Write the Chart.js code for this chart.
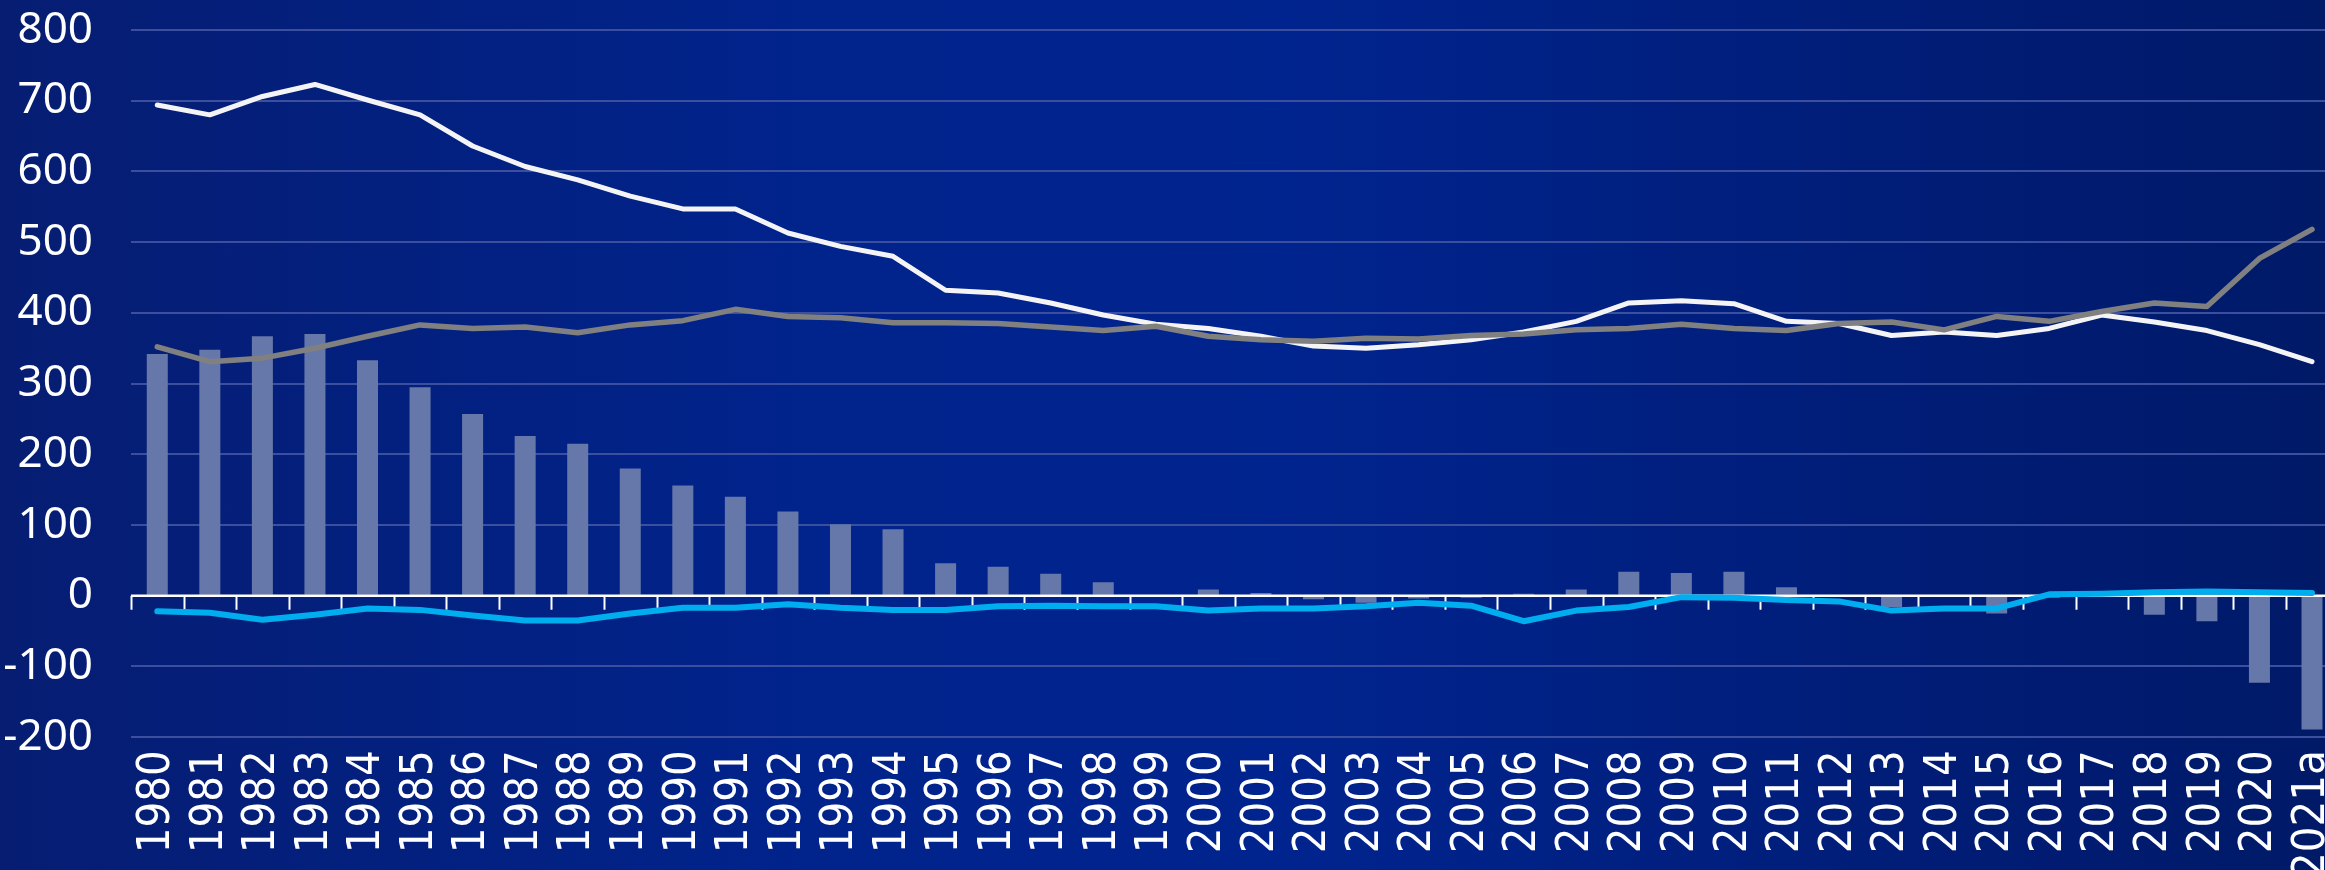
<!DOCTYPE html>
<html>
<head>
<meta charset="utf-8">
<script src="https://cdn.jsdelivr.net/npm/chart.js@4/dist/chart.umd.min.js"></script>
<style>
  html, body {
    margin: 0;
    padding: 0;
    overflow: hidden;
    width: 2325px;
    height: 870px;
    background: linear-gradient(to right, #061d72 0%, #00238c 35%, #00248f 55%, #001c74 85%, #001a68 100%);
  }
  #chart {
    display: block;
  }
</style>
</head>
<body>
<canvas id="chart" width="2379" height="891"></canvas>
<script>
const years = ['1980', '1981', '1982', '1983', '1984', '1985', '1986', '1987', '1988', '1989',
  '1990', '1991', '1992', '1993', '1994', '1995', '1996', '1997', '1998', '1999',
  '2000', '2001', '2002', '2003', '2004', '2005', '2006', '2007', '2008', '2009',
  '2010', '2011', '2012', '2013', '2014', '2015', '2016', '2017', '2018', '2019',
  '2020', '2021a'];

const barValues = [342, 348, 367, 370, 333, 295, 257, 226, 215, 180, 156, 140,
  119, 101, 94, 46, 41, 31, 19, 0, 9, 4, -5, -10, -4, -3,
  3, 9, 34, 32, 34, 12, 0, -16, 0, -25, -3, 0, -27, -36, -123, -189];

const whiteLine = [694, 680, 706, 723, 701, 680, 636, 607, 588, 565, 547, 547,
  513, 494, 480, 432, 428, 414, 397, 384, 378, 367, 353, 350, 355, 362,
  373, 388, 414, 417, 413, 388, 385, 368, 373, 368, 378, 397, 387, 375, 355, 331];

const grayLine = [352, 331, 336, 350, 367, 383, 378, 380, 372, 383, 389, 405,
  395, 393, 386, 386, 385, 380, 375, 381, 367, 362, 360, 364, 363, 368,
  370, 376, 378, 384, 378, 375, 385, 387, 376, 395, 388, 402, 414, 409, 477, 518];

const blueLine = [-22, -24, -34, -27, -18, -20, -28, -35, -35, -25, -17, -17,
  -12, -17, -20, -20, -15, -14, -15, -15, -21, -18, -18, -15, -10, -14,
  -36, -21, -16, -2, -3, -6, -8, -21, -18, -18, 2, 3, 5, 6, 5, 4];

const yMin = -200;
const yMax = 800;
const yStep = 100;

// white zero line with small tick marks between the categories, drawn right after the bars
const zeroAxis = {
  id: 'zeroAxis',
  afterDatasetDraw(chart, args) {
    if (args.index !== 0) return;
    const { ctx, chartArea, scales } = chart;
    const y0 = scales.y.getPixelForValue(0);
    ctx.save();
    ctx.strokeStyle = '#ffffff';
    ctx.lineWidth = 2.5;
    ctx.beginPath();
    ctx.moveTo(chartArea.left, y0);
    ctx.lineTo(chartArea.right, y0);
    ctx.stroke();
    ctx.lineWidth = 2;
    const half = (scales.x.getPixelForValue(1) - scales.x.getPixelForValue(0)) / 2;
    for (let i = 0; i <= years.length; i++) {
      const x = Math.round(scales.x.getPixelForValue(i) - half) + 0.5;
      ctx.beginPath();
      ctx.moveTo(x, y0);
      ctx.lineTo(x, y0 + 14);
      ctx.stroke();
    }
    ctx.restore();
  }
};

const lineStyle = {
  type: 'line',
  pointRadius: 0,
  tension: 0,
  fill: false,
  borderCapStyle: 'round',
  borderJoinStyle: 'round'
};

new Chart(document.getElementById('chart'), {
  type: 'bar',
  data: {
    labels: years,
    datasets: [
      {
        label: 'bars',
        data: barValues,
        backgroundColor: '#6677aa',
        borderWidth: 0,
        barPercentage: 0.4,
        categoryPercentage: 1,
        order: 4
      },
      Object.assign({}, lineStyle, {
        label: 'white',
        data: whiteLine,
        borderColor: '#f4f4f6',
        borderWidth: 5,
        order: 3
      }),
      Object.assign({}, lineStyle, {
        label: 'gray',
        data: grayLine,
        borderColor: '#808080',
        borderWidth: 5.5,
        order: 2
      }),
      Object.assign({}, lineStyle, {
        label: 'blue',
        data: blueLine,
        borderColor: '#00aeef',
        borderWidth: 6,
        order: 1
      })
    ]
  },
  options: {
    responsive: false,
    animation: false,
    layout: {
      padding: { left: 0, right: 0, top: 0, bottom: 0 }
    },
    plugins: {
      legend: { display: false },
      tooltip: { enabled: false }
    },
    scales: {
      x: {
        grid: { display: false, drawTicks: false },
        border: { display: false },
        ticks: {
          color: '#ffffff',
          autoSkip: false,
          minRotation: 90,
          maxRotation: 90,
          padding: 13,
          font: { family: "'DejaVu Sans Condensed', 'DejaVu Sans', sans-serif", size: 45 }
        }
      },
      y: {
        min: yMin,
        max: yMax,
        grid: {
          drawTicks: false,
          lineWidth: 2,
          color: (c) => (c.tick && c.tick.value === 0 ? 'rgba(0,0,0,0)' : '#3b4f9e')
        },
        border: { display: false },
        ticks: {
          stepSize: yStep,
          color: '#ffffff',
          padding: 38,
          font: { family: "'Noto Sans', sans-serif", size: 44 }
        },
        // fixed axis width and top offset so the plot starts where the original does
        afterFit(scale) {
          scale.width = 131;
          scale.paddingTop = 30;
          scale.paddingBottom = 0;
        }
      }
    }
  },
  plugins: [zeroAxis]
});
</script>
</body>
</html>
